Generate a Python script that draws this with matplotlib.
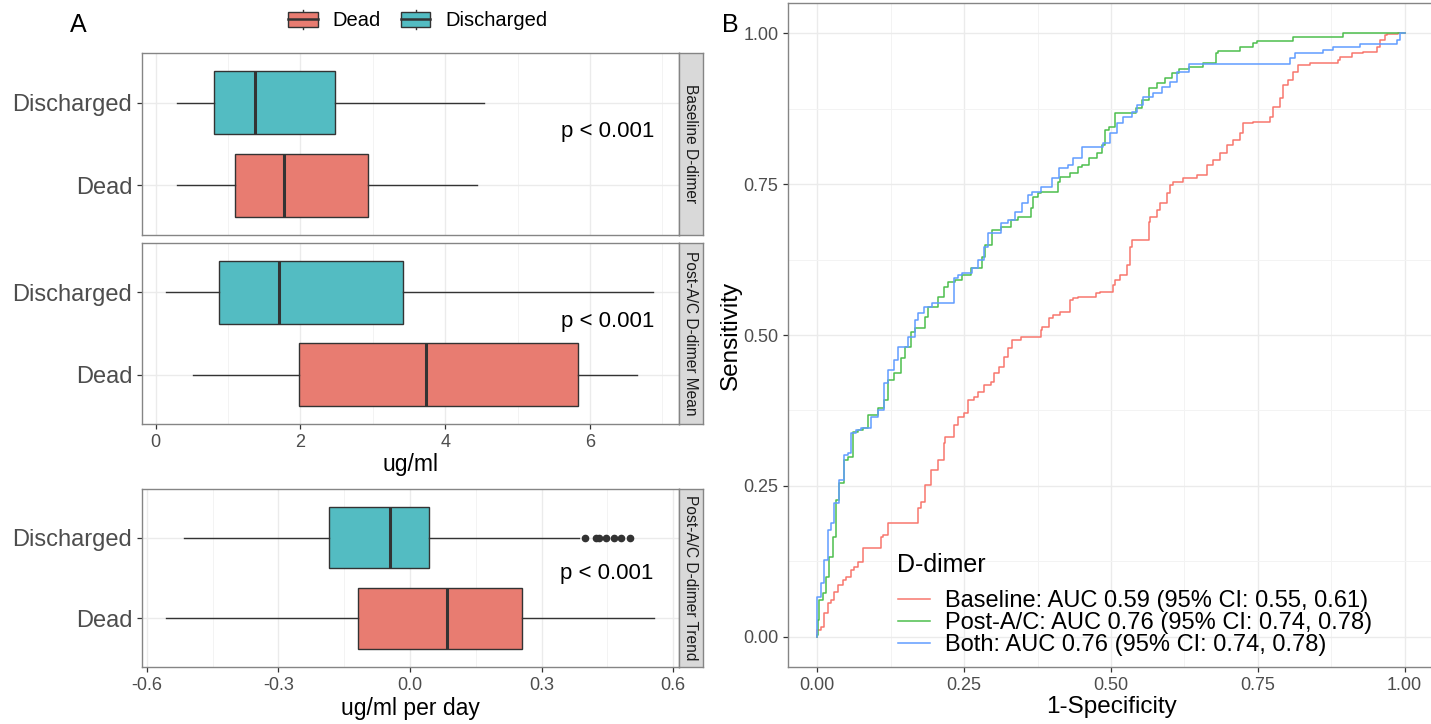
import numpy as np
import matplotlib as mpl
mpl.use("Agg")
import matplotlib.pyplot as plt
from matplotlib.lines import Line2D
from matplotlib.patches import Rectangle, Patch
from matplotlib.legend_handler import HandlerBase
from matplotlib.ticker import MultipleLocator

plt.rcParams['font.family'] = ['Liberation Sans', 'DejaVu Sans']

# ---------------- data ----------------
groups = ['Dead', 'Discharged']
panel_names = ['Baseline D-dimer', 'Post-A/C D-dimer Mean', 'Post-A/C D-dimer Trend']
panel_units = [None, 'ug/ml', 'ug/ml per day']

# five-number summaries: whisker low, Q1, median, Q3, whisker high
baseline_dead = [0.29, 1.09, 1.77, 2.93, 4.44]
baseline_dis = [0.29, 0.80, 1.37, 2.47, 4.53]
mean_dead = [0.51, 1.98, 3.73, 5.84, 6.65]
mean_dis = [0.14, 0.87, 1.70, 3.42, 6.87]
trend_dead = [-0.556, -0.119, 0.084, 0.255, 0.556]
trend_dis = [-0.516, -0.185, -0.046, 0.044, 0.386]
trend_dis_outliers = [0.398, 0.423, 0.431, 0.447, 0.464, 0.480, 0.502]
p_labels = ['p < 0.001', 'p < 0.001', 'p < 0.001']

# ROC curves (1-specificity, sensitivity)
fpr_base = [0.000, 0.006, 0.011, 0.018, 0.023, 0.028, 0.035, 0.043, 0.048, 0.057, 0.062, 0.070,
            0.077, 0.082, 0.108, 0.111, 0.120, 0.125, 0.172, 0.176, 0.184, 0.193, 0.205, 0.215,
            0.218, 0.232, 0.239, 0.249, 0.256, 0.266, 0.273, 0.283, 0.295, 0.300, 0.309, 0.317,
            0.324, 0.332, 0.346, 0.359, 0.380, 0.383, 0.394, 0.402, 0.414, 0.431, 0.436, 0.443,
            0.474, 0.482, 0.504, 0.507, 0.516, 0.528, 0.533, 0.536, 0.542, 0.564, 0.567, 0.579,
            0.584, 0.596, 0.601, 0.606, 0.623, 0.647, 0.664, 0.674, 0.686, 0.698, 0.708, 0.720,
            0.725, 0.742, 0.771, 0.776, 0.788, 0.793, 0.802, 0.810, 0.819, 0.839, 0.887, 0.890,
            0.911, 0.929, 0.953, 0.958, 0.966, 0.970, 0.988, 0.995, 1.000]
tpr_base = [0.000, 0.012, 0.017, 0.040, 0.056, 0.061, 0.075, 0.086, 0.094, 0.099, 0.111, 0.116,
            0.124, 0.147, 0.147, 0.166, 0.169, 0.189, 0.189, 0.214, 0.224, 0.252, 0.276, 0.293,
            0.321, 0.331, 0.351, 0.364, 0.371, 0.392, 0.397, 0.406, 0.417, 0.422, 0.437, 0.447,
            0.464, 0.478, 0.492, 0.497, 0.497, 0.508, 0.513, 0.528, 0.533, 0.538, 0.558, 0.561,
            0.563, 0.570, 0.571, 0.583, 0.591, 0.599, 0.616, 0.646, 0.657, 0.657, 0.687, 0.695,
            0.707, 0.719, 0.735, 0.748, 0.753, 0.760, 0.765, 0.781, 0.790, 0.801, 0.815, 0.823,
            0.834, 0.851, 0.853, 0.861, 0.877, 0.892, 0.914, 0.922, 0.935, 0.947, 0.950, 0.955,
            0.960, 0.967, 0.969, 0.977, 0.988, 0.997, 0.998, 1.000, 1.000]

fpr_post = [0.000, 0.001, 0.002, 0.009, 0.014, 0.019, 0.026, 0.031, 0.036, 0.045, 0.053, 0.060,
            0.070, 0.077, 0.087, 0.103, 0.113, 0.121, 0.130, 0.142, 0.150, 0.159, 0.167, 0.172,
            0.184, 0.189, 0.205, 0.215, 0.223, 0.235, 0.247, 0.261, 0.264, 0.281, 0.286, 0.298,
            0.312, 0.329, 0.341, 0.363, 0.368, 0.375, 0.380, 0.409, 0.414, 0.431, 0.443, 0.451,
            0.462, 0.477, 0.485, 0.490, 0.496, 0.507, 0.516, 0.542, 0.553, 0.564, 0.579, 0.592,
            0.604, 0.615, 0.632, 0.657, 0.678, 0.683, 0.720, 0.742, 0.749, 0.810, 0.895, 0.963,
            1.000]
tpr_post = [0.000, 0.003, 0.028, 0.061, 0.073, 0.099, 0.132, 0.166, 0.227, 0.255, 0.293, 0.298,
            0.339, 0.343, 0.346, 0.368, 0.379, 0.392, 0.425, 0.437, 0.462, 0.480, 0.505, 0.512,
            0.512, 0.530, 0.546, 0.563, 0.579, 0.588, 0.591, 0.599, 0.611, 0.611, 0.629, 0.649,
            0.674, 0.679, 0.690, 0.695, 0.710, 0.728, 0.735, 0.737, 0.753, 0.762, 0.768, 0.778,
            0.781, 0.793, 0.801, 0.815, 0.839, 0.844, 0.868, 0.868, 0.876, 0.889, 0.909, 0.917,
            0.925, 0.934, 0.940, 0.944, 0.950, 0.967, 0.970, 0.977, 0.983, 0.987, 0.993, 1.000,
            1.000]

fpr_both = [0.000, 0.000, 0.006, 0.011, 0.018, 0.023, 0.028, 0.036, 0.045, 0.052, 0.057, 0.065,
            0.074, 0.091, 0.103, 0.113, 0.121, 0.130, 0.138, 0.154, 0.167, 0.172, 0.181, 0.196,
            0.206, 0.232, 0.239, 0.247, 0.264, 0.273, 0.283, 0.291, 0.312, 0.324, 0.337, 0.349,
            0.358, 0.366, 0.380, 0.400, 0.411, 0.426, 0.436, 0.451, 0.460, 0.487, 0.499, 0.511,
            0.521, 0.536, 0.545, 0.555, 0.572, 0.587, 0.601, 0.613, 0.618, 0.632, 0.657, 0.805,
            0.814, 0.861, 0.878, 0.924, 0.963, 0.987, 0.992, 1.000]
tpr_both = [0.000, 0.003, 0.066, 0.089, 0.127, 0.177, 0.189, 0.222, 0.260, 0.301, 0.305, 0.338,
            0.343, 0.346, 0.364, 0.376, 0.421, 0.442, 0.459, 0.480, 0.497, 0.525, 0.536, 0.546,
            0.553, 0.553, 0.594, 0.599, 0.603, 0.611, 0.624, 0.646, 0.669, 0.685, 0.690, 0.704,
            0.719, 0.732, 0.737, 0.745, 0.760, 0.776, 0.781, 0.793, 0.811, 0.811, 0.818, 0.834,
            0.851, 0.861, 0.869, 0.881, 0.894, 0.901, 0.911, 0.919, 0.935, 0.935, 0.949, 0.949,
            0.959, 0.967, 0.972, 0.977, 0.982, 0.982, 0.988, 1.000]

roc_title = 'D-dimer'
roc_labels = ['Baseline: AUC 0.59 (95% CI: 0.55, 0.61)',
              'Post-A/C: AUC 0.76 (95% CI: 0.74, 0.78)',
              'Both: AUC 0.76 (95% CI: 0.74, 0.78)']

# ---------------- style ----------------
col_dead = '#E87C71'
col_dis = '#53BCC2'
roc_cols = ['#F8766D', '#4DBE4D', '#619CFF']
frame_col = '#858585'
dark = '#333333'

W, H = 1431, 724
fig = plt.figure(figsize=(W / 100, H / 100), dpi=100)
fig.patch.set_facecolor('white')


def px_axes(x0, y0, x1, y1):
    return fig.add_axes([x0 / W, 1 - y1 / H, (x1 - x0) / W, (y1 - y0) / H])


def style_bw(ax):
    for s in ax.spines.values():
        s.set_color(frame_col)
        s.set_linewidth(1.0)
    ax.set_axisbelow(True)
    ax.tick_params(which='major', length=3.5, width=0.9, color=dark, labelcolor='#4D4D4D')
    ax.tick_params(which='minor', length=0)


class BoxKey(HandlerBase):
    def create_artists(self, legend, orig_handle, xdescent, ydescent, width, height, fontsize, trans):
        x0, y0 = -xdescent, -ydescent
        cx = x0 + width / 2
        whisk = Line2D([cx, cx], [y0 - 0.15 * height, y0 + 1.15 * height], color=dark, lw=1.0, transform=trans)
        box = Rectangle((x0, y0), width, height, facecolor=orig_handle.get_facecolor(),
                        edgecolor=dark, lw=1.0, transform=trans)
        med = Line2D([x0, x0 + width], [y0 + height / 2] * 2, color=dark, lw=1.8, transform=trans)
        return [whisk, box, med]


# ---------------- panel A ----------------
box_data = [(baseline_dead, baseline_dis, []),
            (mean_dead, mean_dis, []),
            (trend_dead, trend_dis, trend_dis_outliers)]
rows = [(53, 235), (243, 424), (489, 667)]
xlims = [(-0.19, 7.23), (-0.19, 7.23), (-0.611, 0.613)]
p_pos = [(6.24, 1.65), (6.24, 1.64), (0.449, 1.55)]

for i, ((dead, dis, fl), (top, bot)) in enumerate(zip(box_data, rows)):
    ax = px_axes(142, top, 679, bot)
    style_bw(ax)
    stats = []
    for vals, fliers in ((dead, []), (dis, fl)):
        stats.append(dict(whislo=vals[0], q1=vals[1], med=vals[2], q3=vals[3], whishi=vals[4],
                          fliers=fliers))
    bp = ax.bxp(stats, positions=[1, 2], widths=0.76, orientation='horizontal', patch_artist=True,
                showcaps=False, showfliers=True,
                boxprops=dict(edgecolor=dark, linewidth=1.0),
                medianprops=dict(color=dark, linewidth=2.2),
                whiskerprops=dict(color=dark, linewidth=1.0),
                flierprops=dict(marker='o', markerfacecolor=dark, markeredgecolor=dark, markersize=4.5))
    for patch, c in zip(bp['boxes'], [col_dead, col_dis]):
        patch.set_facecolor(c)
    ax.set_ylim(0.4, 2.6)
    ax.set_xlim(*xlims[i])
    ax.set_yticks([1, 2])
    ax.set_yticklabels(groups, fontsize=17)
    if i < 2:
        ax.xaxis.set_major_locator(MultipleLocator(2))
        ax.xaxis.set_minor_locator(MultipleLocator(1))
    else:
        ax.set_xticks([-0.6, -0.3, 0.0, 0.3, 0.6])
        ax.set_xticklabels(['-0.6', '-0.3', '0.0', '0.3', '0.6'])
        ax.xaxis.set_minor_locator(MultipleLocator(0.15))
    ax.grid(True, which='major', color='#EBEBEB', lw=1.0)
    ax.grid(True, which='minor', axis='x', color='#F3F3F3', lw=0.7)
    if i == 0:
        ax.tick_params(axis='x', which='both', length=0, labelbottom=False)
    else:
        ax.tick_params(axis='x', labelsize=13)
        ax.set_xlabel(panel_units[i], fontsize=16.5, labelpad=2)
    ax.text(p_pos[i][0], p_pos[i][1], p_labels[i], ha='center', va='center', fontsize=16)

    sax = px_axes(679, top, 703, bot)
    sax.set_facecolor('#D9D9D9')
    for s in sax.spines.values():
        s.set_color(frame_col)
        s.set_linewidth(1.0)
    sax.set_xticks([])
    sax.set_yticks([])
    sax.text(0.5, 0.5, panel_names[i], rotation=270, ha='center', va='center',
             fontsize=11.2, color='#1A1A1A', transform=sax.transAxes)

fig.legend(handles=[Patch(facecolor=col_dead), Patch(facecolor=col_dis)], labels=groups,
           handler_map={Patch: BoxKey()}, ncol=2, loc='center', bbox_to_anchor=(418 / W, 1 - 21 / H),
           frameon=False, fontsize=14.5, handlelength=1.45, handleheight=0.75,
           columnspacing=1.0, handletextpad=0.75)

fig.text(78 / W, 1 - 25 / H, 'A', fontsize=18, ha='center', va='center')
fig.text(730 / W, 1 - 25 / H, 'B', fontsize=18, ha='center', va='center')

# ---------------- panel B ----------------
axb = px_axes(788, 3, 1434, 667)
style_bw(axb)
for fx, ty, c, lab in zip([fpr_base, fpr_post, fpr_both], [tpr_base, tpr_post, tpr_both],
                          roc_cols, roc_labels):
    axb.plot(fx, ty, color=c, lw=1.1, drawstyle='steps-pre', label=lab)
axb.set_xlim(-0.05, 1.05)
axb.set_ylim(-0.05, 1.05)
ticks = [0, 0.25, 0.5, 0.75, 1.0]
tlabs = ['0.00', '0.25', '0.50', '0.75', '1.00']
axb.set_xticks(ticks)
axb.set_xticklabels(tlabs)
axb.set_yticks(ticks)
axb.set_yticklabels(tlabs)
axb.xaxis.set_minor_locator(MultipleLocator(0.125))
axb.yaxis.set_minor_locator(MultipleLocator(0.125))
axb.tick_params(labelsize=13)
axb.grid(True, which='major', color='#EBEBEB', lw=1.0)
axb.grid(True, which='minor', color='#F3F3F3', lw=0.7)
axb.set_xlabel('1-Specificity', fontsize=17.5, labelpad=2)
axb.set_ylabel('Sensitivity', fontsize=17.5, labelpad=1)
leg = axb.legend(loc='lower left', bbox_to_anchor=(0.17, 0.016), frameon=False,
                 fontsize=17, handlelength=1.35, handletextpad=0.65, labelspacing=0.0,
                 borderpad=0, borderaxespad=0)
fig.text(897 / W, 1 - 565 / H, roc_title, fontsize=18, ha='left', va='center')

fig.savefig('out.png', dpi=100, facecolor='white')
